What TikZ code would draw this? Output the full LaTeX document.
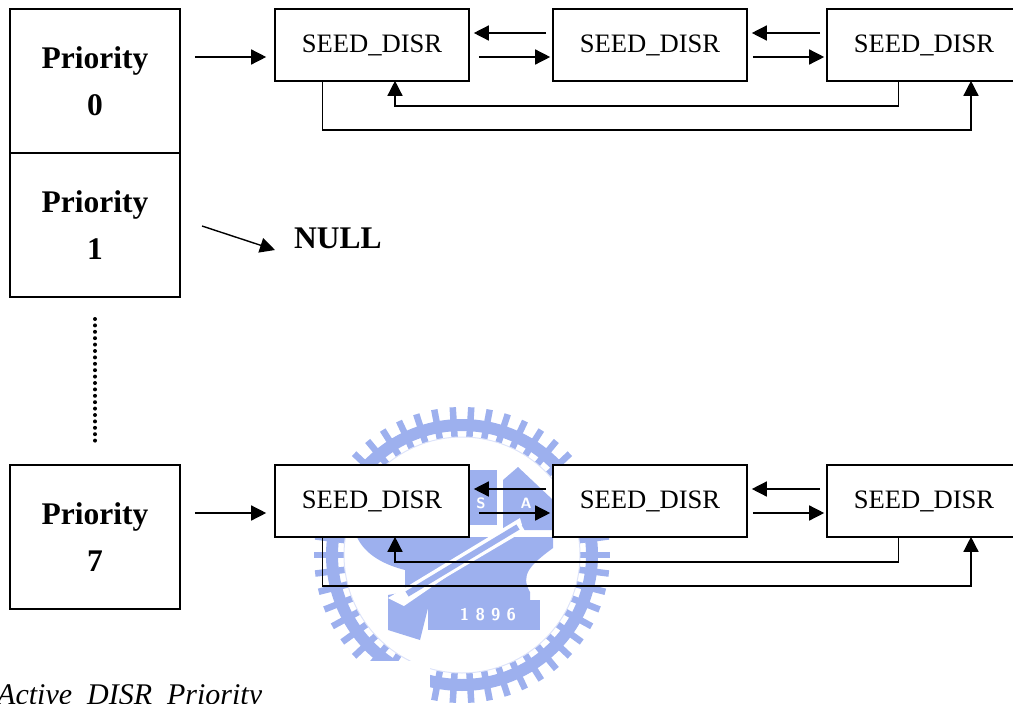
\documentclass[tikz,border=0pt]{standalone}
\usepackage{fontspec}
\setmainfont{Liberation Serif}
\usetikzlibrary{arrows.meta,calc}
\definecolor{wm}{HTML}{9DB0EE}
\tikzset{
 prio/.style={draw,line width=1.6pt,minimum width=170pt,minimum height=144pt,inner sep=0,align=center,font=\fontsize{31.5}{47}\selectfont\bfseries},
 seed/.style={draw,fill=white,line width=1.6pt,minimum width=194pt,minimum height=72pt,inner sep=0,font=\fontsize{26.6}{30}\selectfont},
 arr/.style={line width=1.4pt,-{Triangle[length=15pt,width=15pt]}},
 wmtooth/.style={wm,line width=6.5pt},
}
\begin{document}
\begin{tikzpicture}[x=1pt,y=-1pt]
\useasboundingbox (0,0) rectangle (1013,704);
\clip (0,0) rectangle (1013,704);
% watermark
\begin{scope}
\foreach \a in {0,7.2,...,359}{
  \draw[wmtooth] (462,555)++(\a:118) -- ++(\a:30);
}
\draw[wm,line width=12pt] (462,555) circle (130);
\draw[wm!35,line width=1pt] (462,555) circle (118);
\fill[wm] (467,470) rectangle (497,525);
\fill[wm] (503,480) -- (518,467) -- (553,500) -- (553,530) -- (503,530) -- cycle;
\fill[wm] (357,537) -- (553,537) -- (553,548) .. controls (530,565) and (520,575) .. (530,592) -- (515,592) -- (405,592) -- (405,570) .. controls (385,565) and (365,555) .. (357,537) -- cycle;
\fill[wm] (388,595) -- (405,592) -- (530,592) -- (530,600) -- (430,600) -- (420,640) -- (388,630) -- cycle;
\fill[wm] (428,600) rectangle (540,630);
\fill[white] (388,598) -- (520,518) -- (522,525) -- (404,606) -- cycle;
\draw[white,line width=11pt] (407,594) -- (522,526);
\draw[wm,line width=6pt] (407,594) -- (518,527);
\node[text=white,font=\fontsize{15}{15}\selectfont\sffamily\bfseries] (wmS) at (481,503) {S};
\node[text=white,font=\fontsize{15}{15}\selectfont\sffamily\bfseries] (wmA) at (526,503) {A};
\node[text=white,font=\fontsize{17}{17}\selectfont\sffamily\bfseries] (wmY) at (488,615) {1 8 9 6};
\fill[white] (0,661) rectangle (430,704);
\end{scope}
% priority boxes
\node[prio] (p0) at (95,81) {Priority\\0};
\node[prio] (p1) at (95,225) {Priority\\1};
\node[prio] (p7) at (95,537) {Priority\\7};
\node[font=\fontsize{31.5}{38}\selectfont\bfseries,anchor=west,inner sep=0] (null) at (294,238) {NULL};
% rows
\node[seed] (a1) at (372,45) {SEED\_DISR};
\node[seed] (a2) at (650,45) {SEED\_DISR};
\node[seed] (a3) at (924,45) {SEED\_DISR};
\node[seed] (b1) at (372,501) {SEED\_DISR};
\node[seed] (b2) at (650,501) {SEED\_DISR};
\node[seed] (b3) at (924,501) {SEED\_DISR};
% connectors
\foreach \r/\q in {a/p0,b/p7}{
 \draw[arr] ([xshift=14pt,yshift=-12pt]\q.east |- \r1.west) -- ([xshift=-8pt,yshift=-12pt]\r1.west);
 \draw[arr] ([xshift=9pt,yshift=-12pt]\r1.east) -- ([xshift=-2pt,yshift=-12pt]\r2.west);
 \draw[arr] ([xshift=-6pt,yshift=12pt]\r2.west) -- ([xshift=4pt,yshift=12pt]\r1.east);
 \draw[arr] ([xshift=5pt,yshift=-12pt]\r2.east) -- ([xshift=-2pt,yshift=-12pt]\r3.west);
 \draw[arr] ([xshift=-6pt,yshift=12pt]\r3.west) -- ([xshift=4pt,yshift=12pt]\r2.east);
 \draw[arr] ([xshift=72pt]\r3.south west) -- ++(0,24) -| ([xshift=23pt,yshift=1pt]\r1.south);
 \draw[arr] ([xshift=48pt]\r1.south west) -- ++(0,48) -| ([xshift=47pt,yshift=1pt]\r3.south);
}
\coordinate (nullstart) at (202,226);
\draw[arr] (nullstart) -- ([xshift=-19pt,yshift=-12pt]null.west);
% dots
\coordinate (d0) at (95,319);
\coordinate (d1) at (95,441);
\draw[line width=4pt,line cap=round,dash pattern=on 0pt off 6.4pt] (d0) -- (d1);
% caption
\node[anchor=base west,inner sep=0,font=\fontsize{30}{30}\selectfont\itshape] (cap) at (-3,704) {Active\ \ DISR\ \ Priority};
\end{tikzpicture}
\end{document}
